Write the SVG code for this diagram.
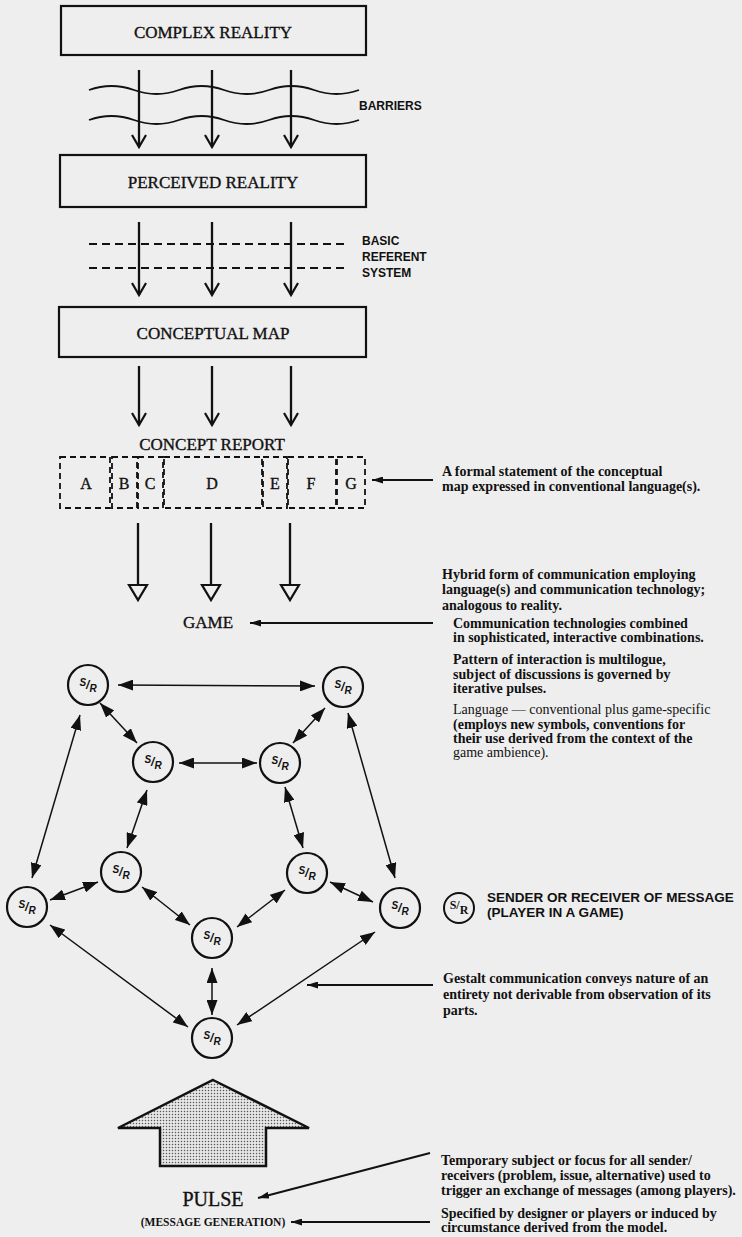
<svg xmlns="http://www.w3.org/2000/svg" width="742" height="1237" viewBox="0 0 742 1237">
<defs>
<style>
.bg{fill:#eeeeee}
.box{fill:none;stroke:#111;stroke-width:2.2}
.h{font-family:"Liberation Serif",serif;font-size:17px;fill:#111;stroke:#111;stroke-width:0.35;text-anchor:middle}
.lt{font-family:"Liberation Serif",serif;font-size:16px;fill:#111;stroke:#111;stroke-width:0.35;text-anchor:middle}
.lbl{font-family:"Liberation Sans",sans-serif;font-weight:bold;font-size:12px;fill:#111}
.ann{font-family:"Liberation Serif",serif;font-weight:bold;font-size:14px;fill:#111}
.annl{font-family:"Liberation Serif",serif;font-size:14px;fill:#111}
.flow{stroke:#111;stroke-width:2.3;fill:none;marker-end:url(#vhead)}
.wave{stroke:#111;stroke-width:1.8;fill:none}
.dash{stroke:#111;stroke-width:1.8;stroke-dasharray:8 5;fill:none}
.rep{fill:none;stroke:#111;stroke-width:1.8;stroke-dasharray:6 4}
.shaft{stroke:#111;stroke-width:2.3;fill:none}
.open{fill:#eeeeee;stroke:#111;stroke-width:2.2}
.node{fill:#eeeeee;stroke:#111;stroke-width:2.2}
.sr{font-family:"Liberation Sans",sans-serif;font-weight:bold;font-style:italic;font-size:12px;fill:#111;text-anchor:middle}
.link{stroke:#111;stroke-width:1.5;fill:none;marker-start:url(#tri);marker-end:url(#tri)}
.note{stroke:#111;stroke-width:2;fill:none;marker-end:url(#tris)}
</style>
<marker id="vhead" markerUnits="userSpaceOnUse" viewBox="0 -1 14 16" markerWidth="14" markerHeight="16" refX="12" refY="7" orient="auto" overflow="visible">
<path d="M0,0 L12,7 L0,14" fill="none" stroke="#111" stroke-width="2.2"/>
</marker>
<marker id="tri" markerUnits="userSpaceOnUse" viewBox="0 0 15 11" markerWidth="15" markerHeight="11" refX="15" refY="5.5" orient="auto-start-reverse">
<path d="M0,0 L15,5.5 L0,11 z" fill="#111"/>
</marker>
<marker id="tris" markerUnits="userSpaceOnUse" viewBox="0 0 11 7" markerWidth="11" markerHeight="7" refX="11" refY="3.5" orient="auto">
<path d="M0,0 L11,3.5 L0,7 z" fill="#111"/>
</marker>
<pattern id="dots" width="3" height="3" patternUnits="userSpaceOnUse">
<rect width="3" height="3" fill="#e6e6e6"/>
<circle cx="1.5" cy="1.5" r="0.75" fill="#555"/>
</pattern>
</defs>
<rect class="bg" x="0" y="0" width="742" height="1237"/>

<g id="complex-reality">
<rect class="box" x="61" y="6" width="305" height="49"/>
<text class="h" x="213" y="38">COMPLEX REALITY</text>
</g>
<g id="barriers">
<path class="wave" d="M89,90 q22.5,-8 45,0 t45,0 t45,0 t45,0 t45,0 t45,0"/>
<path class="wave" d="M89,120 q22.5,-8 45,0 t45,0 t45,0 t45,0 t45,0 t45,0"/>
<text class="lbl" x="359" y="110">BARRIERS</text>
</g>
<g id="perceived-reality">
<rect class="box" x="60" y="155" width="306" height="52"/>
<text class="h" x="213" y="188">PERCEIVED REALITY</text>
</g>
<g id="basic-referent-system">
<line class="dash" x1="89" y1="244" x2="345" y2="244"/>
<line class="dash" x1="89" y1="268" x2="345" y2="268"/>
<text class="lbl" x="362" y="245">BASIC</text>
<text class="lbl" x="362" y="261">REFERENT</text>
<text class="lbl" x="362" y="277">SYSTEM</text>
</g>
<g id="conceptual-map">
<rect class="box" x="59" y="307" width="307" height="50"/>
<text class="h" x="213" y="339">CONCEPTUAL MAP</text>
</g>
<g id="concept-report">
<text class="h" x="212" y="450">CONCEPT REPORT</text>
<rect class="rep" x="60" y="457" width="50" height="51"/>
<rect class="rep" x="112" y="457" width="25" height="51"/>
<rect class="rep" x="138" y="457" width="25" height="51"/>
<rect class="rep" x="164" y="457" width="98" height="51"/>
<rect class="rep" x="263" y="457" width="24" height="51"/>
<rect class="rep" x="288" y="457" width="48" height="51"/>
<rect class="rep" x="337" y="457" width="28" height="51"/>
<text class="lt" x="86" y="489">A</text>
<text class="lt" x="124" y="489">B</text>
<text class="lt" x="150" y="489">C</text>
<text class="lt" x="212" y="489">D</text>
<text class="lt" x="275" y="489">E</text>
<text class="lt" x="311" y="489">F</text>
<text class="lt" x="351" y="489">G</text>
</g>
<g id="game">
<text class="h" x="208" y="628">GAME</text>
</g>

<g id="flow-connectors">
<line class="flow" x1="139" y1="70" x2="139" y2="147"/>
<line class="flow" x1="212" y1="70" x2="212" y2="147"/>
<line class="flow" x1="291" y1="70" x2="291" y2="147"/>
<line class="flow" x1="139" y1="222" x2="139" y2="295"/>
<line class="flow" x1="212" y1="222" x2="212" y2="295"/>
<line class="flow" x1="291" y1="222" x2="291" y2="295"/>
<line class="flow" x1="139" y1="366" x2="139" y2="425"/>
<line class="flow" x1="212" y1="366" x2="212" y2="425"/>
<line class="flow" x1="291" y1="366" x2="291" y2="425"/>
<line class="shaft" x1="138" y1="523" x2="138" y2="585"/>
<line class="shaft" x1="211" y1="523" x2="211" y2="585"/>
<line class="shaft" x1="290" y1="523" x2="290" y2="585"/>
<polygon class="open" points="129,585 147,585 138,600"/>
<polygon class="open" points="202,585 220,585 211,600"/>
<polygon class="open" points="281,585 299,585 290,600"/>
</g>

<g id="network-connectors">
<line class="link" x1="118" y1="685" x2="315" y2="686"/>
<line class="link" x1="100" y1="703" x2="137" y2="743"/>
<line class="link" x1="325" y1="708" x2="293" y2="743"/>
<line class="link" x1="179" y1="763" x2="257" y2="763"/>
<line class="link" x1="80" y1="715" x2="32" y2="878"/>
<line class="link" x1="348" y1="713" x2="395" y2="878"/>
<line class="link" x1="147" y1="790" x2="127" y2="848"/>
<line class="link" x1="285" y1="787" x2="303" y2="848"/>
<line class="link" x1="98" y1="882" x2="50" y2="900"/>
<line class="link" x1="330" y1="882" x2="373" y2="902"/>
<line class="link" x1="142" y1="887" x2="190" y2="925"/>
<line class="link" x1="285" y1="890" x2="237" y2="927"/>
<line class="link" x1="50" y1="925" x2="188" y2="1027"/>
<line class="link" x1="375" y1="932" x2="237" y2="1025"/>
<line class="link" x1="212" y1="968" x2="212" y2="1015"/>
</g>

<g id="n1"><circle class="node" cx="88" cy="685" r="20"/><text class="sr" x="88" y="689"><tspan dy="-3" font-size="10">S</tspan><tspan dy="3">/</tspan><tspan dy="3" font-size="10">R</tspan></text></g>
<g id="n2"><circle class="node" cx="343" cy="687" r="20"/><text class="sr" x="343" y="691"><tspan dy="-3" font-size="10">S</tspan><tspan dy="3">/</tspan><tspan dy="3" font-size="10">R</tspan></text></g>
<g id="n3"><circle class="node" cx="153" cy="762" r="20"/><text class="sr" x="153" y="766"><tspan dy="-3" font-size="10">S</tspan><tspan dy="3">/</tspan><tspan dy="3" font-size="10">R</tspan></text></g>
<g id="n4"><circle class="node" cx="280" cy="763" r="20"/><text class="sr" x="280" y="767"><tspan dy="-3" font-size="10">S</tspan><tspan dy="3">/</tspan><tspan dy="3" font-size="10">R</tspan></text></g>
<g id="n5"><circle class="node" cx="121" cy="872" r="20"/><text class="sr" x="121" y="876"><tspan dy="-3" font-size="10">S</tspan><tspan dy="3">/</tspan><tspan dy="3" font-size="10">R</tspan></text></g>
<g id="n6"><circle class="node" cx="307" cy="873" r="20"/><text class="sr" x="307" y="877"><tspan dy="-3" font-size="10">S</tspan><tspan dy="3">/</tspan><tspan dy="3" font-size="10">R</tspan></text></g>
<g id="n7"><circle class="node" cx="27" cy="907" r="20"/><text class="sr" x="27" y="911"><tspan dy="-3" font-size="10">S</tspan><tspan dy="3">/</tspan><tspan dy="3" font-size="10">R</tspan></text></g>
<g id="n8"><circle class="node" cx="400" cy="908" r="20"/><text class="sr" x="400" y="912"><tspan dy="-3" font-size="10">S</tspan><tspan dy="3">/</tspan><tspan dy="3" font-size="10">R</tspan></text></g>
<g id="n9"><circle class="node" cx="212" cy="938" r="20"/><text class="sr" x="212" y="942"><tspan dy="-3" font-size="10">S</tspan><tspan dy="3">/</tspan><tspan dy="3" font-size="10">R</tspan></text></g>
<g id="n10"><circle class="node" cx="212" cy="1038" r="20"/><text class="sr" x="212" y="1042"><tspan dy="-3" font-size="10">S</tspan><tspan dy="3">/</tspan><tspan dy="3" font-size="10">R</tspan></text></g>

<g id="pulse">
<polygon points="213,1080 309,1128 266,1128 266,1166 160,1166 160,1128 118,1128" fill="url(#dots)" stroke="#111" stroke-width="2.5" stroke-linejoin="miter"/>
<text x="213" y="1206" style="font-family:'Liberation Serif',serif;font-size:20px;fill:#111;stroke:#111;stroke-width:0.35;text-anchor:middle">PULSE</text>
<text x="213" y="1226" style="font-family:'Liberation Serif',serif;font-weight:bold;font-size:11.5px;fill:#111;text-anchor:middle">(MESSAGE GENERATION)</text>
</g>

<g id="annotation-connectors">
<line class="note" x1="433" y1="480" x2="372" y2="480"/>
<line class="note" x1="433" y1="623" x2="250" y2="623"/>
<line class="note" x1="433" y1="985" x2="307" y2="985"/>
<line class="note" x1="430" y1="1153" x2="258" y2="1198"/>
<line class="note" x1="430" y1="1222" x2="291" y2="1222"/>
</g>

<g id="note-report">
<text class="ann" x="442" y="476">A formal statement of the conceptual</text>
<text class="ann" x="442" y="491">map expressed in conventional language(s).</text>
</g>
<g id="note-game">
<text class="ann" x="442" y="579">Hybrid form of communication employing</text>
<text class="ann" x="442" y="594">language(s) and communication technology;</text>
<text class="ann" x="442" y="610">analogous to reality.</text>
<text class="ann" x="453" y="628">Communication technologies combined</text>
<text class="ann" x="453" y="642">in sophisticated, interactive combinations.</text>
<text class="ann" x="453" y="664">Pattern of interaction is multilogue,</text>
<text class="ann" x="453" y="679">subject of discussions is governed by</text>
<text class="ann" x="453" y="693">iterative pulses.</text>
<text class="annl" x="453" y="714">Language — conventional plus game-specific</text>
<text class="ann" x="453" y="729">(employs new symbols, conventions for</text>
<text class="ann" x="453" y="743">their use derived from the context of the</text>
<text class="annl" x="453" y="757">game ambience).</text>
</g>
<g id="legend">
<circle cx="459" cy="908" r="15" fill="none" stroke="#111" stroke-width="2"/>
<text x="459" y="911" style="font-family:'Liberation Serif',serif;font-weight:bold;font-size:12px;fill:#111;text-anchor:middle"><tspan dy="-2">S</tspan><tspan>/</tspan><tspan dy="5">R</tspan></text>
<text class="lbl" x="487" y="902" style="font-size:13.5px">SENDER OR RECEIVER OF MESSAGE</text>
<text class="lbl" x="487" y="917" style="font-size:13.5px">(PLAYER IN A GAME)</text>
</g>
<g id="note-gestalt">
<text class="ann" x="443" y="983">Gestalt communication conveys nature of an</text>
<text class="ann" x="443" y="999">entirety not derivable from observation of its</text>
<text class="ann" x="443" y="1015">parts.</text>
</g>
<g id="note-pulse">
<text class="ann" x="441" y="1165">Temporary subject or focus for all sender/</text>
<text class="ann" x="441" y="1180">receivers (problem, issue, alternative) used to</text>
<text class="ann" x="441" y="1195">trigger an exchange of messages (among players).</text>
<text class="ann" x="441" y="1218">Specified by designer or players or induced by</text>
<text class="ann" x="441" y="1232">circumstance derived from the model.</text>
</g>
</svg>
